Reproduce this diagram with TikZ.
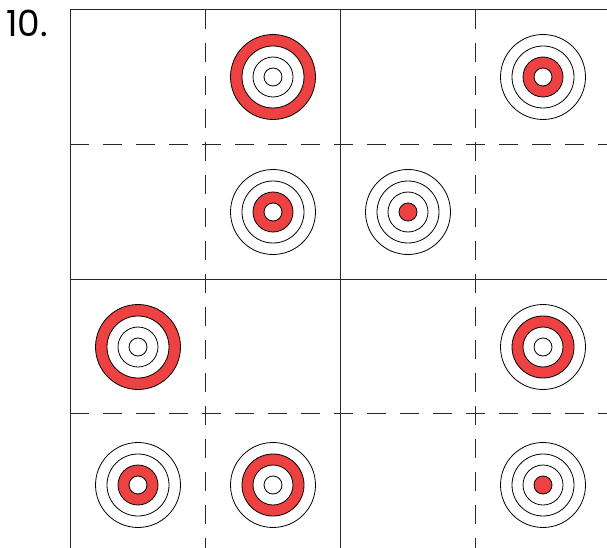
\documentclass[tikz,border=0pt]{standalone}
\usepackage{fontspec}
\setmainfont{Poppins}
\definecolor{tred}{RGB}{238,66,66}
\definecolor{gline}{RGB}{40,40,40}
\tikzset{
  gridsolid/.style={draw=gline, line width=1pt},
  griddash/.style={draw=gline, line width=1pt, dash pattern=on 19pt off 14pt},
  ring/.style={draw=black, line width=0.8pt},
}
% \tgt{x}{y}{level}: level 0 = centre disk, 1..3 = bands
\newcommand\tgt[3]{%
  \ifcase#3
    \fill[tred] (#1,#2) circle[radius=9];
  \or
    \fill[tred,even odd rule] (#1,#2) circle[radius=20] (#1,#2) circle[radius=9];
  \or
    \fill[tred,even odd rule] (#1,#2) circle[radius=31] (#1,#2) circle[radius=20];
  \or
    \fill[tred,even odd rule] (#1,#2) circle[radius=42.5] (#1,#2) circle[radius=31];
  \fi
  \foreach \r in {9,20,31,42.5}{\draw[ring] (#1,#2) circle[radius=\r];}%
}
\begin{document}
\begin{tikzpicture}[x=1pt,y=-1pt]
\useasboundingbox (0,0) rectangle (607,548);
\node[anchor=base west, inner sep=0pt, font=\fontsize{36}{36}\selectfont] (title) at (6,37) {10.};
% grid
\draw[gridsolid] (70,548) -- (70,10) -- (607,10);
\draw[gridsolid] (340,10) -- (340,548);
\draw[gridsolid] (70,279) -- (607,279);
\draw[griddash] (205,10) -- (205,548);
\draw[griddash] (475,10) -- (475,548);
\draw[griddash] (70,145) -- (607,145);
\draw[griddash] (70,413) -- (607,413);
% targets
\tgt{273}{77}{3}
\tgt{543}{77}{1}
\tgt{273}{212}{1}
\tgt{408}{212}{0}
\tgt{138}{347}{3}
\tgt{543}{347}{2}
\tgt{138}{485}{1}
\tgt{273}{485}{2}
\tgt{543}{485}{0}
\end{tikzpicture}
\end{document}
